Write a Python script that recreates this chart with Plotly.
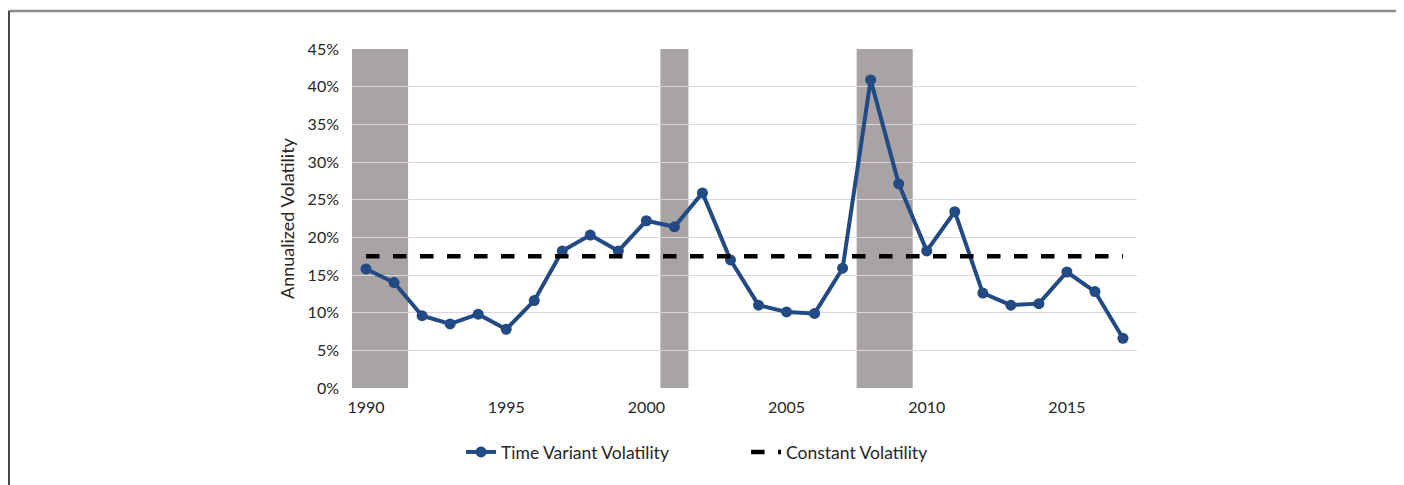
import plotly.graph_objects as go

years = list(range(1990, 2018))
time_variant = [15.8, 14.0, 9.6, 8.5, 9.8, 7.8, 11.6, 18.2, 20.3, 18.2,
                22.2, 21.4, 25.9, 17.0, 11.0, 10.1, 9.9, 15.9, 40.9, 27.1,
                18.2, 23.4, 12.6, 11.0, 11.2, 15.4, 12.8, 6.6]
constant_vol = [17.5] * len(years)
recessions = [(1989.5, 1991.5), (2000.5, 2001.5), (2007.5, 2009.5)]

fig = go.Figure()

fig.add_trace(go.Scatter(
    x=years, y=time_variant, mode='lines+markers',
    name='Time Variant Volatility',
    line=dict(color='#224a85', width=4),
    marker=dict(size=11, color='#224a85'),
))
fig.add_trace(go.Scatter(
    x=years, y=constant_vol, mode='lines',
    name='Constant Volatility',
    line=dict(color='black', width=4.5, dash='dash'),
))

# recession bands
for x0, x1 in recessions:
    fig.add_vrect(x0=x0, x1=x1, fillcolor='#a8a4a4', opacity=1,
                  line_width=0, layer='below')

# outer frame of the figure
fig.add_shape(type='line', xref='paper', yref='paper',
              x0=-0.4376, x1=1.335, y0=1.112, y1=1.112,
              line=dict(color='#8c8c8c', width=2.5))
fig.add_shape(type='line', xref='paper', yref='paper',
              x0=-0.4370, x1=-0.4370, y0=1.112, y1=-0.35,
              line=dict(color='#444444', width=2))
fig.add_shape(type='line', xref='paper', yref='paper',
              x0=1.335, x1=1.335, y0=1.112, y1=-0.35,
              line=dict(color='#444444', width=2))

fig.update_layout(
    width=1396, height=477,
    paper_bgcolor='white', plot_bgcolor='white',
    margin=dict(l=344, r=267, t=41, b=97),
    font=dict(family='Lato, Open Sans, sans-serif', size=16, color='#262626'),
    showlegend=True,
    legend=dict(orientation='h', x=0.502, xanchor='center', y=-0.189,
                yanchor='middle', font=dict(size=17.5),
                entrywidth=240, entrywidthmode='pixels'),
    xaxis=dict(range=[1989.5, 2017.5], tickvals=[1990, 1995, 2000, 2005, 2010, 2015],
               showgrid=False, zeroline=False, showline=False, ticks='',
               ticklabelstandoff=8, tickfont=dict(size=16)),
    yaxis=dict(range=[0, 45], dtick=5, ticksuffix='%',
               showgrid=True, gridcolor='#d9d9d9', gridwidth=1,
               zeroline=False, showline=False, ticks='',
               ticklabelstandoff=12,
               title=dict(text='Annualized Volatility', font=dict(size=18), standoff=8),
               tickfont=dict(size=16)),
)

fig.write_html("out.html")
